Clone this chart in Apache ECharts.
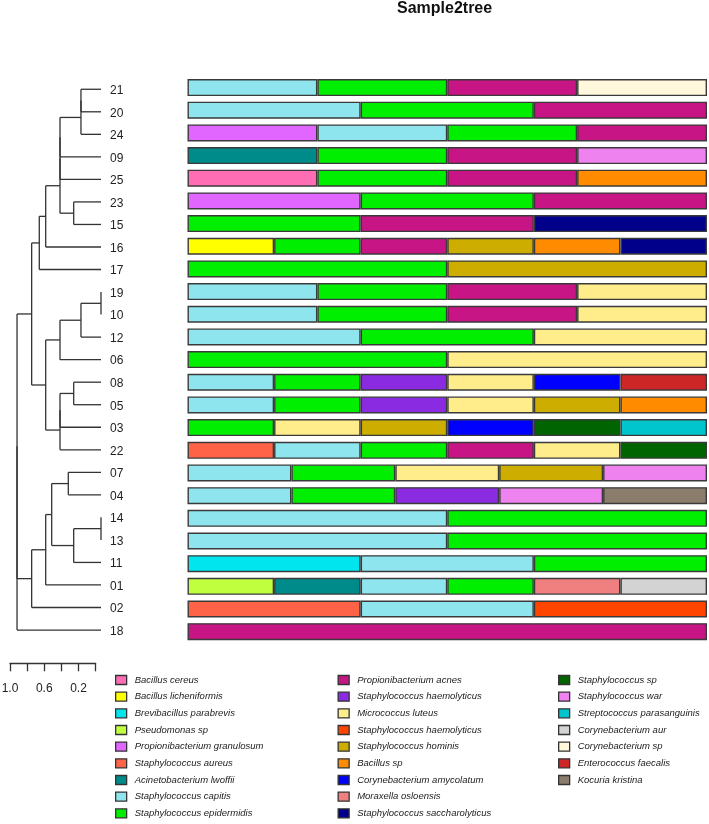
<!DOCTYPE html>
<html>
<head>
<meta charset="utf-8">
<script src="https://cdn.jsdelivr.net/npm/echarts@6/dist/echarts.min.js"></script>
<style>html,body{margin:0;padding:0;background:#fff}#c{width:709px;height:824px}</style>
</head>
<body>
<div id="c"></div>
<script>
// Leaf order (top to bottom)
const samples = ['21','20','24','09','25','23','15','16','17','19','10','12','06','08','05','03','22','07','04','14','13','11','01','02','18'];

// Species in legend order
const species = [
  'Bacillus cereus','Bacillus licheniformis','Brevibacillus parabrevis','Pseudomonas sp',
  'Propionibacterium granulosum','Staphylococcus aureus','Acinetobacterium lwoffii',
  'Staphylococcus capitis','Staphylococcus epidermidis',
  'Propionibacterium acnes','Staphylococcus haemolyticus','Micrococcus luteus',
  'Staphylococcus haemolyticus ','Staphylococcus hominis','Bacillus sp',
  'Corynebacterium amycolatum','Moraxella osloensis','Staphylococcus saccharolyticus',
  'Staphylococcus sp','Staphylococcus war','Streptococcus parasanguinis',
  'Corynebacterium aur','Corynebacterium sp','Enterococcus faecalis','Kocuria kristina'
];
const speciesColors = [
  '#FF6EB4','#FFFF00','#00E5EE','#C0FF3E','#E066FF','#FF6347','#008B8B','#8EE5EE','#00EE00',
  '#C71585','#8A2BE2','#FFEC8B','#FF4500','#CDAD00','#FF8C00','#0000FF','#F08080','#00008B',
  '#006400','#EE82EE','#00C5CD','#D3D3D3','#FFF8DC','#CD2626','#8B7D6B'
];

// Species (by index) detected in each sample, same order as samples
const members = [
  [7,8,9,22],        // 21
  [7,8,9],           // 20
  [4,7,8,9],         // 24
  [6,8,9,19],        // 09
  [0,8,9,14],        // 25
  [4,8,9],           // 23
  [8,9,17],          // 15
  [1,8,9,13,14,17],  // 16
  [8,13],            // 17
  [7,8,9,11],        // 19
  [7,8,9,11],        // 10
  [7,8,11],          // 12
  [8,11],            // 06
  [7,8,10,11,15,23], // 08
  [7,8,10,11,13,14], // 05
  [8,11,13,15,18,20],// 03
  [5,7,8,9,11,18],   // 22
  [7,8,11,13,19],    // 07
  [7,8,10,19,24],    // 04
  [7,8],             // 14
  [7,8],             // 13
  [2,7,8],           // 11
  [3,6,7,8,16,21],   // 01
  [5,7,12],          // 02
  [9]                // 18
];

// Dendrogram: [height, childA, childB]; leaves are sample names
const treeTop = [0.721, [0.646, [0.479, [0.479, [0.479, [0.234, [0.234, '21', '20'], '24'], '09'], '25'], [0.319, '23', '15']], '16'], '17'];
const treeB = [0.646, [0.479, [0.234, [0, '19', '10'], '12'], '06'], [0.479, [0.479, [0.319, '08', '05'], '03'], '22']];
const treeC = [0.81, [0.646, [0.576, [0.382, '07', '04'], [0.319, [0, '14', '13'], '11']], '01'], '02'];
const treeRoot = [0.981, [0.981, [0.81, treeTop, treeB], treeC], '18'];

const scaleTicks = [1.0, 0.6, 0.2];

// ---- build ----
const FONT = 'Liberation Sans, Arial, sans-serif';
const rowIndex = {};
samples.forEach((s, i) => rowIndex[s] = i);
const treeSegs = [];
function layout(node) {
  if (typeof node === 'string') return { h: 0, y: rowIndex[node] };
  const h = node[0];
  const a = layout(node[1]), b = layout(node[2]);
  treeSegs.push([a.h, a.y, h, a.y]);
  treeSegs.push([b.h, b.y, h, b.y]);
  treeSegs.push([h, a.y, h, b.y]);
  return { h: h, y: (a.y + b.y) / 2 };
}
layout(treeRoot);

const GTOP = 76.2, GH = 566.8;

const barSeries = species.map((name, si) => ({
  type: 'bar', name: name, stack: 'all', xAxisIndex: 0, yAxisIndex: 0,
  barWidth: 17, silent: true,
  itemStyle: { color: speciesColors[si], borderColor: '#3a3a3a', borderWidth: 1.4 },
  data: members.map(m => m.includes(si) ? 1 / m.length : '-')
}));

function legendCol(from, to, left) {
  return {
    orient: 'vertical', left: left, top: 674, height: 150, padding: 0, icon: 'rect',
    itemWidth: 11, itemHeight: 9, itemGap: 4.67, selectedMode: false,
    itemStyle: { borderColor: '#333', borderWidth: 1.3 },
    textStyle: { fontFamily: FONT, fontSize: 9.5, fontStyle: 'italic', color: '#222', lineHeight: 12, padding: [0, 0, 0, 3] },
    data: species.slice(from, to)
  };
}

const option = {
  backgroundColor: '#fff',
  animation: false,
  title: {
    text: 'Sample2tree', left: 397, top: 1, padding: 0,
    textStyle: { fontFamily: FONT, fontSize: 16, fontWeight: 'bold', color: '#111' }
  },
  legend: [legendCol(0, 9, 115), legendCol(9, 18, 337.5), legendCol(18, 25, 558)],
  grid: [
    { left: 187.5, width: 519.5, top: GTOP, height: GH, outerBoundsMode: 'none' },
    { left: 15.4, width: 85.6, top: 78, height: 563.3, outerBoundsMode: 'none' },
    { left: 10, width: 85.6, top: 640, height: 23.3, outerBoundsMode: 'none' },
    { left: 15.4, width: 85.6, top: 79.5, height: 563.3, outerBoundsMode: 'none' }
  ],
  xAxis: [
    { gridIndex: 0, type: 'value', min: 0, max: 1, show: false },
    { gridIndex: 1, type: 'value', min: 0, max: 1, inverse: true, show: false },
    { gridIndex: 2, type: 'value', min: 0, max: 1, interval: 0.2, inverse: true, position: 'bottom',
      splitLine: { show: false },
      axisLine: { show: true, lineStyle: { color: '#333', width: 1.3 } },
      axisTick: { show: true, length: 8, lineStyle: { color: '#333', width: 1.3 } },
      axisLabel: { margin: 19, fontFamily: FONT, fontSize: 12, color: '#222',
        formatter: v => scaleTicks.some(t => Math.abs(t - v) < 1e-6) ? v.toFixed(1) : '' } },
    { gridIndex: 3, type: 'value', min: 0, max: 1, show: false }
  ],
  yAxis: [
    { gridIndex: 0, type: 'category', data: samples, inverse: true, show: false },
    { gridIndex: 1, type: 'value', min: -0.5, max: samples.length - 0.5, inverse: true, show: false },
    { gridIndex: 3, type: 'category', data: samples, inverse: true, position: 'right',
      axisLine: { show: false }, axisTick: { show: false }, splitLine: { show: false },
      axisLabel: { margin: 9, fontFamily: FONT, fontSize: 12, color: '#222' } },
    { gridIndex: 2, type: 'value', show: false }
  ],
  series: barSeries.concat([
    {
      type: 'custom', xAxisIndex: 1, yAxisIndex: 1, silent: true,
      encode: { x: [0, 2], y: [1, 3] },
      data: treeSegs,
      renderItem: function (params, api) {
        const p1 = api.coord([api.value(0), api.value(1)]);
        const p2 = api.coord([api.value(2), api.value(3)]);
        return { type: 'line', shape: { x1: p1[0], y1: p1[1], x2: p2[0], y2: p2[1] },
          style: { stroke: '#333', lineWidth: 1.3 } };
      }
    },
    { type: 'line', xAxisIndex: 2, yAxisIndex: 3, data: [], silent: true },
    { type: 'line', xAxisIndex: 3, yAxisIndex: 2, data: [], silent: true }
  ])
};

const chart = echarts.init(document.getElementById('c'), null, { renderer: 'canvas' });
chart.setOption(option);
</script>
</body>
</html>
